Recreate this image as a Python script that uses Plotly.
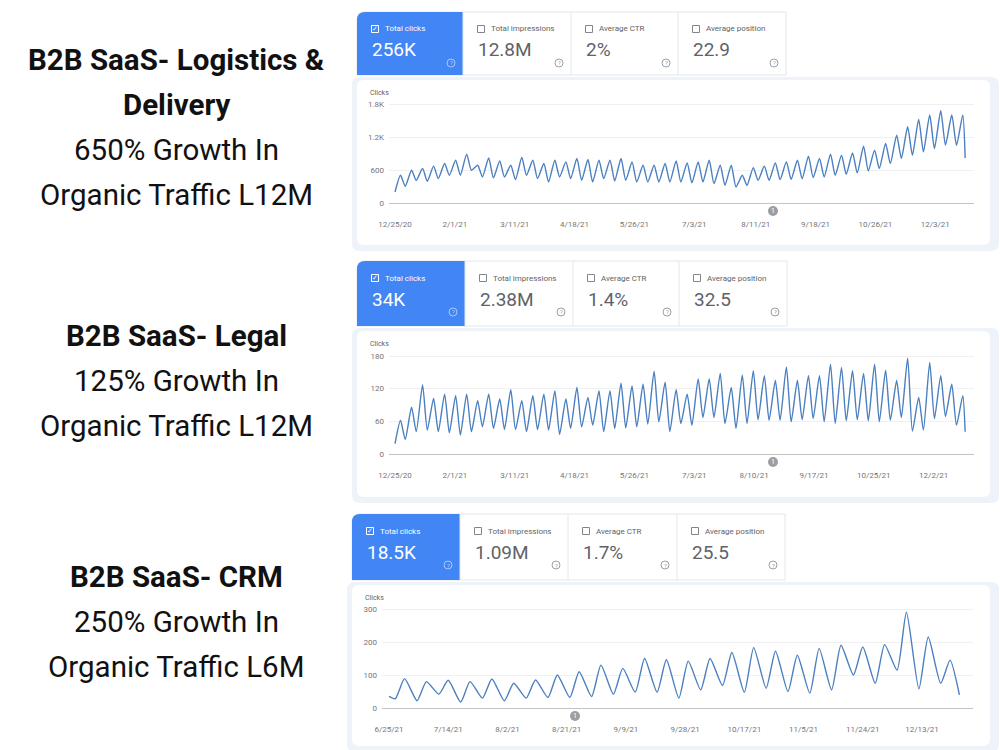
import plotly.graph_objects as go
import pandas as pd

W, H = 1000, 750

# ---------------- DATA ----------------
# Chart 1: B2B SaaS - Logistics & Delivery (daily clicks; weekly peak / trough)
c1_start = "2020-12-25"
c1_first = 200
c1_peaks = [505, 596, 626, 670, 717, 778, 888, 687, 820, 766,
            687, 827, 778, 717, 778, 748, 809, 790, 778, 778,
            809, 748, 687, 687, 717, 766, 730, 748, 778, 687,
            687, 505, 644, 670, 730, 748, 778, 851, 809, 888,
            870, 912, 1034, 961, 1082, 1234, 1386, 1520, 1600, 1678,
            1600, 1600]
c1_troughs = [304, 413, 395, 444, 505, 505, 596, 474, 456, 474,
              425, 505, 444, 383, 474, 444, 413, 383, 444, 401,
              413, 383, 383, 383, 383, 383, 365, 383, 353, 322,
              292, 322, 413, 413, 425, 430, 440, 462, 474, 505,
              523, 547, 584, 626, 717, 809, 870, 930, 991, 1052,
              1050]
c1_last = 820
c1_ticks = ["2020-12-25", "2021-02-01", "2021-03-11", "2021-04-18", "2021-05-26",
            "2021-07-03", "2021-08-11", "2021-09-18", "2021-10-26", "2021-12-03"]
c1_ticktext = ["12/25/20", "2/1/21", "3/11/21", "4/18/21", "5/26/21",
               "7/3/21", "8/11/21", "9/18/21", "10/26/21", "12/3/21"]
c1_yticks = [0, 600, 1200, 1800]
c1_ytext = ["0", "600", "1.2K", "1.8K"]

# Chart 2: B2B SaaS - Legal
c2_start = "2020-12-25"
c2_first = 19
c2_peaks = [62, 86, 127, 102, 110, 107, 110, 98, 110, 101,
            118, 98, 107, 110, 116, 101, 122, 104, 116, 116,
            130, 125, 128, 152, 132, 118, 110, 138, 138, 148,
            122, 145, 153, 144, 135, 160, 135, 144, 144, 165,
            159, 153, 148, 165, 154, 135, 176, 104, 168, 144,
            128, 107]
c2_troughs = [27, 41, 44, 41, 39, 35, 41, 50, 47, 45,
              45, 41, 45, 44, 36, 47, 50, 53, 41, 47,
              48, 50, 55, 59, 41, 56, 53, 67, 67, 56,
              47, 56, 63, 62, 62, 59, 63, 65, 59, 56,
              61, 63, 61, 59, 62, 67, 42, 44, 65, 69,
              53]
c2_last = 41
c2_ticks = ["2020-12-25", "2021-02-01", "2021-03-11", "2021-04-18", "2021-05-26",
            "2021-07-03", "2021-08-10", "2021-09-17", "2021-10-25", "2021-12-02"]
c2_ticktext = ["12/25/20", "2/1/21", "3/11/21", "4/18/21", "5/26/21",
               "7/3/21", "8/10/21", "9/17/21", "10/25/21", "12/2/21"]
c2_yticks = [0, 60, 120, 180]
c2_ytext = ["0", "60", "120", "180"]

# Chart 3: B2B SaaS - CRM
c3_start = "2021-06-25"
c3_first = 35
c3_troughs = [28, 22, 42, 18, 30, 22, 30, 32, 32, 35,
              42, 48, 48, 30, 55, 68, 48, 60, 50, 45,
              55, 100, 75, 115, 58, 75]
c3_peaks = [89, 80, 84, 80, 88, 75, 85, 100, 110, 130,
            120, 150, 146, 142, 150, 168, 183, 172, 160, 180,
            190, 185, 192, 290, 215, 145]
c3_last = 40
c3_ticks = ["2021-06-25", "2021-07-14", "2021-08-02", "2021-08-21", "2021-09-09",
            "2021-09-28", "2021-10-17", "2021-11-05", "2021-11-24", "2021-12-13"]
c3_ticktext = ["6/25/21", "7/14/21", "8/2/21", "8/21/21", "9/9/21",
               "9/28/21", "10/17/21", "11/5/21", "11/24/21", "12/13/21"]
c3_yticks = [0, 100, 200, 300]
c3_ytext = ["0", "100", "200", "300"]

titles = [["<b>B2B SaaS- Logistics &</b>", "<b>Delivery</b>", "650% Growth In", "Organic Traffic L12M"],
          ["<b>B2B SaaS- Legal</b>", "125% Growth In", "Organic Traffic L12M"],
          ["<b>B2B SaaS- CRM</b>", "250% Growth In", "Organic Traffic L6M"]]
metric_labels = ["Total clicks", "Total impressions", "Average CTR", "Average position"]
metric_values = [["256K", "12.8M", "2%", "22.9"],
                 ["34K", "2.38M", "1.4%", "32.5"],
                 ["18.5K", "1.09M", "1.7%", "25.5"]]


def build(start, first, peaks, p_off, troughs, t_off, last, last_off):
    s = pd.Timestamp(start)
    pts = [(0.0, first)]
    pts += [(p_off + 7 * i, v) for i, v in enumerate(peaks)]
    pts += [(t_off + 7 * i, v) for i, v in enumerate(troughs)]
    pts.append((last_off, last))
    pts.sort(key=lambda t: t[0])
    return [s + pd.Timedelta(days=d) for d, _ in pts], [v for _, v in pts]


# --------------- LAYOUT HELPERS ---------------
def px(x):
    return x / W


def py(y):
    return 1 - y / H


def rrect(x0, y0, x1, y1, r, tl=True, tr=True, br=True, bl=True):
    def P(x, y):
        return f"{px(x)},{py(y)}"
    rtl, rtr, rbr, rbl = (r if tl else 0), (r if tr else 0), (r if br else 0), (r if bl else 0)
    d = f"M {P(x0 + rtl, y0)} L {P(x1 - rtr, y0)} "
    if rtr:
        d += f"Q {P(x1, y0)} {P(x1, y0 + rtr)} "
    d += f"L {P(x1, y1 - rbr)} "
    if rbr:
        d += f"Q {P(x1, y1)} {P(x1 - rbr, y1)} "
    d += f"L {P(x0 + rbl, y1)} "
    if rbl:
        d += f"Q {P(x0, y1)} {P(x0, y1 - rbl)} "
    d += f"L {P(x0, y0 + rtl)} "
    if rtl:
        d += f"Q {P(x0, y0)} {P(x0 + rtl, y0)} "
    d += "Z"
    return d


shapes = []
annotations = []
FONT = "Roboto, Arial, sans-serif"


def text(x, y, s, size, color, xanchor="left", yanchor="middle", family=FONT):
    annotations.append(dict(x=px(x), y=py(y), xref="paper", yref="paper", text=s,
                            showarrow=False, xanchor=xanchor, yanchor=yanchor,
                            font=dict(size=size, color=color, family=family)))


panels = [
    dict(tile_top=12, tile_bot=75, tile_x=[357, 463, 571, 678, 786],
         card=(357, 80, 990, 245), clicks=(368, 93),
         xdom=(389, 974), xfirst=395, ppd=1.575, y0=203, ytop=104,
         marker=(773, 211), text_y=[60, 105, 150, 195]),
    dict(tile_top=261, tile_bot=326, tile_x=[357, 465, 573, 679, 787],
         card=(357, 331, 990, 497), clicks=(368, 344),
         xdom=(389, 974), xfirst=395, ppd=1.575, y0=454, ytop=356,
         marker=(773, 462), text_y=[336, 381, 426]),
    dict(tile_top=514, tile_bot=580, tile_x=[352, 460, 568, 677, 785],
         card=(352, 585, 990, 746), clicks=(363, 598),
         xdom=(382, 973), xfirst=389, ppd=3.117, y0=708, ytop=609,
         marker=(575, 716), text_y=[577, 622, 667]),
]

series = [
    build(c1_start, c1_first, c1_peaks, 3.5, c1_troughs, 6.5, c1_last, 362),
    build(c2_start, c2_first, c2_peaks, 3.5, c2_troughs, 6.5, c2_last, 362),
    build(c3_start, c3_first, c3_peaks, 5, c3_troughs, 2, c3_last, 183),
]
starts = [c1_start, c2_start, c3_start]
xticks = [(c1_ticks, c1_ticktext), (c2_ticks, c2_ticktext), (c3_ticks, c3_ticktext)]
yticks = [(c1_yticks, c1_ytext), (c2_yticks, c2_ytext), (c3_yticks, c3_ytext)]

fig = go.Figure()
layout_axes = {}

for k, p in enumerate(panels):
    # left-hand titles
    for line, yy in zip(titles[k], p["text_y"]):
        text(176, yy, line, 29.5, "#111111", xanchor="center")

    # light band around chart card + white card
    cx0, cy0, cx1, cy1 = p["card"]
    shapes.append(dict(type="path", path=rrect(cx0 - 5, cy0 - 3, 999, cy1 + 6, 8),
                       xref="paper", yref="paper", fillcolor="#eef3fa", line=dict(width=0), layer="below"))
    shapes.append(dict(type="path", path=rrect(cx0, cy0, cx1, cy1, 7),
                       xref="paper", yref="paper", fillcolor="#ffffff", line=dict(width=0), layer="below"))

    # metric tiles
    tx = p["tile_x"]
    t0, t1 = p["tile_top"], p["tile_bot"]
    shapes.append(dict(type="path", path=rrect(tx[0], t0, tx[4], t1, 8, tr=False, br=False, bl=False),
                       xref="paper", yref="paper", fillcolor="#ffffff",
                       line=dict(color="#e3e6ea", width=1), layer="below"))
    for i in range(4):
        a, b = tx[i], tx[i + 1]
        if i == 0:
            shapes.append(dict(type="path", path=rrect(a, t0, b, t1, 8, tr=False, br=False, bl=False),
                               xref="paper", yref="paper", fillcolor="#4285f4", line=dict(width=0), layer="below"))
            fg, val_col, box_col, help_col = "#ffffff", "#ffffff", "#ffffff", "#a9c8fb"
        else:
            shapes.append(dict(type="line", x0=px(a), x1=px(a), y0=py(t0), y1=py(t1),
                               xref="paper", yref="paper", line=dict(color="#e3e6ea", width=1)))
            fg, val_col, box_col, help_col = "#5f6368", "#5f6368", "#80868b", "#9aa0a6"
        # checkbox
        shapes.append(dict(type="rect", x0=px(a + 14.5), x1=px(a + 21.5), y0=py(t0 + 13.5), y1=py(t0 + 20.5),
                           xref="paper", yref="paper", line=dict(color=box_col, width=1), fillcolor="rgba(0,0,0,0)"))
        if i == 0:
            text(a + 18, t0 + 17, "✓", 7, "#ffffff", xanchor="center", family="DejaVu Sans")
        text(a + 26, t0 + 17, metric_labels[i], 8, fg)
        text(a + 13, t0 + 38, metric_values[k][i], 19, val_col)
        # help icon
        hx, hy = b - 12, t0 + 51
        shapes.append(dict(type="circle", x0=px(hx - 4), x1=px(hx + 4), y0=py(hy - 4), y1=py(hy + 4),
                           xref="paper", yref="paper", line=dict(color=help_col, width=1)))
        text(hx, hy, "?", 6, help_col, xanchor="center")

    # "Clicks" label
    text(p["clicks"][0], p["clicks"][1], "Clicks", 7, "#5f6368")

    # axes
    xs, ys = series[k]
    idx = "" if k == 0 else str(k + 1)
    s = pd.Timestamp(starts[k])
    xr0 = s - pd.Timedelta(days=(p["xfirst"] - p["xdom"][0]) / p["ppd"])
    xr1 = xr0 + pd.Timedelta(days=(p["xdom"][1] - p["xdom"][0]) / p["ppd"])
    topval = yticks[k][0][-1]
    ppu = (p["y0"] - p["ytop"]) / topval
    lo, hi = -0.012 * topval, 1.012 * topval
    ybot_px = p["y0"] - lo * ppu
    ytop_px = p["y0"] - hi * ppu

    fig.add_trace(go.Scatter(x=xs, y=ys, mode="lines", xaxis="x" + idx, yaxis="y" + idx,
                             line=dict(color="#4a7fc0", width=1.4, shape="spline", smoothing=0.6),
                             hoverinfo="skip", showlegend=False))

    layout_axes["xaxis" + idx] = dict(
        domain=[px(p["xdom"][0]), px(p["xdom"][1])], anchor="y" + idx,
        range=[xr0, xr1], type="date", showgrid=False, zeroline=False, showline=False,
        tickmode="array", tickvals=xticks[k][0], ticktext=xticks[k][1],
        tickfont=dict(size=8, color="#757575", family=FONT), ticks="", ticklabelstandoff=14,
        automargin=False, fixedrange=True)
    layout_axes["yaxis" + idx] = dict(
        domain=[py(ybot_px), py(ytop_px)], anchor="x" + idx,
        range=[lo, hi], showgrid=True, gridcolor="#f0f0f0", gridwidth=1,
        zeroline=True, zerolinecolor="#c4c4c4", zerolinewidth=1, showline=False,
        tickmode="array", tickvals=yticks[k][0], ticktext=yticks[k][1],
        tickfont=dict(size=8, color="#757575", family=FONT), ticks="", ticklabelstandoff=4,
        automargin=False, fixedrange=True)

    # annotation marker "1"
    mx, my = p["marker"]
    shapes.append(dict(type="circle", x0=px(mx - 5), x1=px(mx + 5), y0=py(my - 5), y1=py(my + 5),
                       xref="paper", yref="paper", fillcolor="#9e9e9e", line=dict(width=0)))
    text(mx, my, "1", 7, "#ffffff", xanchor="center")

fig.update_layout(
    width=W, height=H,
    margin=dict(l=0, r=0, t=0, b=0, pad=0, autoexpand=False),
    paper_bgcolor="#ffffff", plot_bgcolor="rgba(0,0,0,0)",
    shapes=shapes, annotations=annotations,
    showlegend=False,
    **layout_axes,
)

fig.write_html("out.html")
